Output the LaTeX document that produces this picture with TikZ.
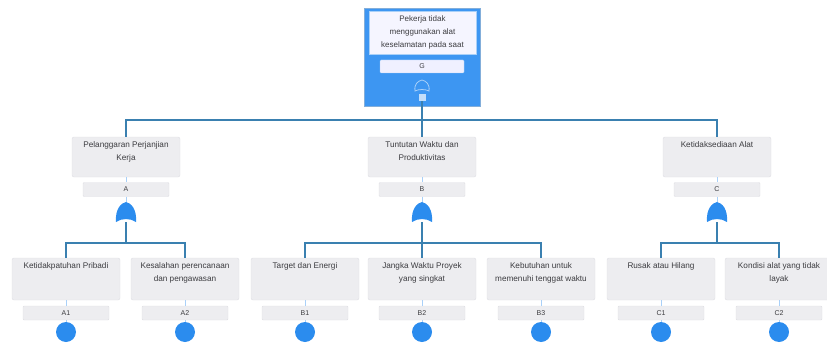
\documentclass[tikz,border=0pt]{standalone}
\usepackage{fontspec}
\setmainfont{Liberation Sans}
\definecolor{topblue}{HTML}{3D96F2}
\definecolor{gateblue}{HTML}{2B8CEE}
\definecolor{linkblue}{HTML}{3A80B0}
\definecolor{boxfill}{HTML}{EDEDF0}
\definecolor{boxedge}{HTML}{DEDEE3}
\definecolor{txtgray}{HTML}{3C3C40}
\definecolor{paleblue}{HTML}{A9D0F8}
\begin{document}
\begin{tikzpicture}[x=1pt,y=-1pt,
  evbox/.style={draw=boxedge, fill=boxfill, rounded corners=2pt,
    minimum width=108pt, minimum height=42pt, inner sep=0pt, text=txtgray,
    font=\fontsize{8.2}{13}\selectfont},
  tagbox/.style={draw=boxedge, fill=boxfill, rounded corners=1pt,
    minimum width=86pt, minimum height=14pt, inner sep=0pt, text=txtgray,
    font=\fontsize{7}{8}\selectfont},
  gatenode/.style={minimum width=20pt, minimum height=20pt, inner sep=0pt},
  basic/.style={circle, fill=gateblue, minimum size=20pt, inner sep=0pt},
  conn/.style={draw=linkblue, line width=1.6pt},
  stub/.style={draw=paleblue, line width=0.8pt},
  orgate/.pic={
    \fill[gateblue] (-10,10) .. controls (-11,-3) and (-5,-9) .. (0,-10)
      .. controls (5,-9) and (11,-3) .. (10,10)
      .. controls (4,6) and (-4,6) .. cycle;
  },
  orgateline/.pic={
    \draw[paleblue, line width=0.8pt] (-7,5) .. controls (-8,-2) and (-4,-5) .. (0,-6)
      .. controls (4,-5) and (8,-2) .. (7,5)
      .. controls (3,3) and (-3,3) .. cycle;
  }]
\useasboundingbox (0,0) rectangle (827,345);

% top event (highlighted)
\node[fill=topblue, draw=topblue!80!black!60, minimum width=116pt, minimum height=98pt, inner sep=0pt] (top) at (422,57) {};
\node[draw=paleblue, fill=white!96!blue, minimum width=107pt, minimum height=43pt, inner sep=0pt, text=txtgray,
  font=\fontsize{8}{13}\selectfont, align=center] (toptxt) at (422.5,32.5)
  {Pekerja tidak\\menggunakan alat\\keselamatan pada saat};
\node[tagbox, fill=white!94!blue, draw=paleblue, minimum width=84pt, minimum height=13pt] (Gl) at (422,66.5) {G};
\node[gatenode] (Gg) at (422,86) {};
\pic at (Gg) {orgateline};
\node[fill=paleblue!70!white, minimum size=7pt, inner sep=0pt] (Gsq) at (422,97.5) {};

% intermediate events
\node[evbox, minimum height=40pt] (A) at (126,157) {\parbox[c][30pt][t]{104pt}{\centering Pelanggaran Perjanjian\\Kerja}};
\node[evbox, minimum height=40pt] (B) at (422,157) {\parbox[c][30pt][t]{104pt}{\centering Tuntutan Waktu dan\\Produktivitas}};
\node[evbox, minimum height=40pt] (C) at (717,157) {\parbox[c][30pt][t]{104pt}{\centering Ketidaksediaan Alat}};
\node[tagbox] (Al) at (126,189.5) {A};
\node[tagbox] (Bl) at (422,189.5) {B};
\node[tagbox] (Cl) at (717,189.5) {C};
\node[gatenode] (Ag) at (126,212) {};
\node[gatenode] (Bg) at (422,212) {};
\node[gatenode] (Cg) at (717,212) {};
\pic at (Ag) {orgate};
\pic at (Bg) {orgate};
\pic at (Cg) {orgate};

% basic events
\foreach \n/\x/\t in {A1/66/{Ketidakpatuhan Pribadi},
                      A2/185/{Kesalahan perencanaan\\dan pengawasan},
                      B1/305/{Target dan Energi},
                      B2/422/{Jangka Waktu Proyek\\yang singkat},
                      B3/541/{Kebutuhan untuk\\memenuhi tenggat waktu},
                      C1/661/{Rusak atau Hilang},
                      C2/779/{Kondisi alat yang tidak\\layak}}{
  \node[evbox] (\n) at (\x,279) {\parbox[c][32pt][t]{106pt}{\centering \t}};
  \node[tagbox] (\n l) at (\x,313) {\n};
  \node[basic] (\n c) at (\x,332) {};
  \draw[stub] (\n.south) -- (\n l.north);
  \draw[stub] (\n l.south) -- (\n c.north);
}

% junction points of the tree
\coordinate (j0) at (422,120);
\coordinate (jA) at (126,243);
\coordinate (jB) at (422,243);
\coordinate (jC) at (717,243);

% connectors
\draw[conn] (Gsq.south) -- (j0);
\draw[conn] (j0) -| (A.north);
\draw[conn] (j0) -- (B.north);
\draw[conn] (j0) -| (C.north);
\foreach \p in {A,B,C}{
  \draw[stub] (\p.south) -- (\p l.north);
  \draw[stub] (\p l.south) -- (\p g.north);
  \draw[conn] (\p g.south) -- (j\p);
}
\draw[conn] (jA) -| (A1.north);
\draw[conn] (jA) -| (A2.north);
\draw[conn] (jB) -| (B1.north);
\draw[conn] (jB) -- (B2.north);
\draw[conn] (jB) -| (B3.north);
\draw[conn] (jC) -| (C1.north);
\draw[conn] (jC) -| (C2.north);
\end{tikzpicture}
\end{document}
